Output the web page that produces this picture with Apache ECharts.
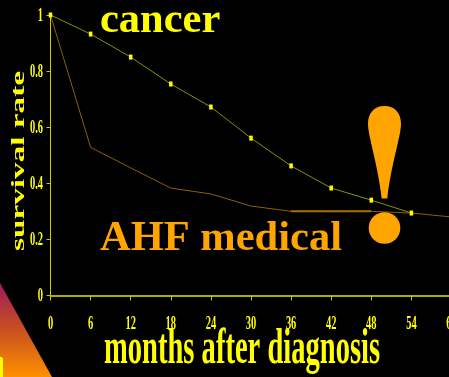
<!DOCTYPE html>
<html>
<head>
<meta charset="utf-8">
<style>html,body{margin:0;padding:0;background:#000;overflow:hidden}#c{width:449px;height:377px}</style>
<script src="https://cdn.jsdelivr.net/npm/echarts@6/dist/echarts.min.js"></script>
</head>
<body>
<div id="c"></div>
<script>
// Survival after diagnosis: cancer versus medically treated advanced heart failure
const months = [0, 6, 12, 18, 24, 30, 36, 42, 48, 54, 60];
const cancer = [1, 0.932, 0.85, 0.754, 0.672, 0.561, 0.462, 0.383, 0.34, 0.294, null];
const ahfMedical = [1, 0.528, 0.455, 0.383, 0.362, 0.319, 0.30, 0.30, 0.30, 0.294, 0.28];
const rateTicks = [0, 0.2, 0.4, 0.6, 0.8, 1];

const serif = '"Liberation Serif", serif';
const yellow = '#ffff00';
const orange = '#ffa500';

// Tapered stroke of the exclamation mark
echarts.graphic.registerShape('bangStroke', echarts.graphic.extendShape({
  buildPath(ctx) {
    ctx.moveTo(384.5, 106);
    ctx.bezierCurveTo(374, 106, 368, 113, 368, 124);
    ctx.bezierCurveTo(368, 136, 378, 165, 381.7, 198.5);
    ctx.lineTo(387.3, 198.5);
    ctx.bezierCurveTo(391, 165, 401, 136, 401, 124);
    ctx.bezierCurveTo(401, 113, 395, 106, 384.5, 106);
    ctx.closePath();
  }
}));

// Condensed tick label, placed through the axis scales
const tickText = (text, pos, dx, dy, align) => ({
  type: 'text', x: pos[0] + dx, y: pos[1] + dy, scaleX: 0.55,
  style: {text, fill: yellow, font: 'bold 19px ' + serif, align, verticalAlign: 'middle'}
});

const chart = echarts.init(document.getElementById('c'), null, {renderer: 'canvas'});
chart.setOption({
  backgroundColor: '#000',
  animation: false,
  grid: {left: 50.5, top: 15, width: 401, height: 280.5, containLabel: false, outerBoundsMode: 'none'},
  xAxis: {
    type: 'value', min: 0, max: 60, interval: 6,
    axisLine: {onZero: false, lineStyle: {color: '#e6e600', width: 1.5}},
    axisTick: {length: 5, lineStyle: {color: '#c8c800', width: 1}},
    splitLine: {show: false},
    axisLabel: {show: false}
  },
  yAxis: {
    type: 'value', min: 0, max: 1, interval: 0.2,
    axisLine: {show: true, lineStyle: {color: '#cccc00', width: 1}},
    axisTick: {show: true, length: 4, lineStyle: {color: '#c8c800', width: 1}},
    splitLine: {show: false},
    axisLabel: {show: false}
  },
  series: [
    {
      name: 'month labels', type: 'custom', clip: false, silent: true,
      data: months.map(m => [m, 0]),
      renderItem: (p, api) => tickText(String(api.value(0)), api.coord([api.value(0), 0]), 0, 28.5, 'center')
    },
    {
      name: 'rate labels', type: 'custom', clip: false, silent: true,
      data: rateTicks.map(r => [0, r]),
      renderItem: (p, api) => tickText(String(api.value(1)), api.coord([0, api.value(1)]), -7.5, 1, 'right')
    },
    {
      name: 'AHF medical', type: 'line', clip: false, z: 2,
      data: months.map((m, i) => [m, ahfMedical[i]]),
      symbol: 'none',
      lineStyle: {color: '#8f5f00', width: 1}
    },
    {
      // The months where the curve holds flat sit heavier on the plot
      name: 'AHF medical plateau', type: 'line', clip: false, z: 2,
      data: months.map((m, i) => [m, ahfMedical[i]]).slice(6, 9),
      symbol: 'none',
      lineStyle: {color: '#a87000', width: 2}
    },
    {
      name: 'cancer', type: 'line', clip: false, z: 3,
      data: months.map((m, i) => [m, cancer[i]]).filter(p => p[1] !== null),
      symbol: 'rect', symbolSize: [3.5, 5],
      itemStyle: {color: yellow},
      lineStyle: {color: '#8f8f00', width: 1}
    }
  ],
  graphic: [
    {type: 'polygon', z: 1, shape: {points: [[0, 283], [52, 377], [0, 377]]},
     style: {fill: new echarts.graphic.LinearGradient(0, 0, 0, 1, [
       {offset: 0, color: '#a01a60'}, {offset: 0.5, color: '#c8501e'}, {offset: 1, color: '#ff9000'}
     ])}},
    {type: 'rect', z: 2, shape: {x: -2, y: 357, width: 5, height: 24, r: 2}, style: {fill: yellow}},
    {type: 'text', z: 5, x: 100, y: 0, style: {text: 'cancer', fill: yellow, font: 'bold 42.5px ' + serif}},
    {type: 'text', z: 5, x: 100, y: 218, style: {text: 'AHF medical', fill: orange, font: 'bold 42.5px ' + serif}},
    {type: 'text', z: 5, x: 104, y: 324, scaleX: 0.56, style: {text: 'months after diagnosis', fill: yellow, font: 'bold 51px ' + serif}},
    {type: 'text', z: 5, rotation: Math.PI / 2, x: 19, y: 161, scaleX: 1.75,
     style: {text: 'survival rate', fill: yellow, font: 'bold 19px ' + serif, align: 'center', verticalAlign: 'middle'}},
    {type: 'bangStroke', z: 6, style: {fill: orange}},
    {type: 'circle', z: 6, shape: {cx: 384.5, cy: 228, r: 15.8}, style: {fill: orange}}
  ]
});
</script>
</body>
</html>
